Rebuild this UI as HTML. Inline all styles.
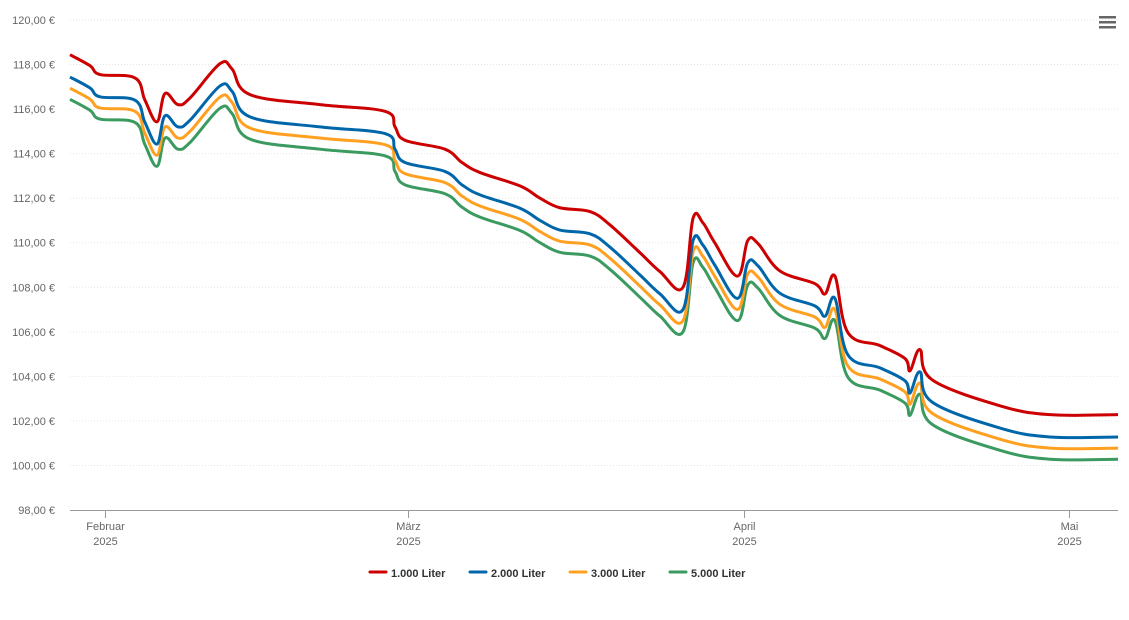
<!DOCTYPE html>
<html><head><meta charset="utf-8"><style>
body{margin:0;background:#fff;font-family:"Liberation Sans",sans-serif;}
svg text{font-family:"Liberation Sans",sans-serif;}
</style></head><body>
<svg id="chart" width="1129" height="615" xmlns="http://www.w3.org/2000/svg">
<g id="grid"></g>
<g id="yaxis"></g>
<g id="xaxis"></g>
<g id="series"></g>
<g>
<rect x="1099" y="16" width="17" height="2.5" fill="#666"/><rect x="1099" y="21" width="17" height="2.5" fill="#666"/><rect x="1099" y="26" width="17" height="2.5" fill="#666"/>
</g>
<g id="legend"></g>
</svg>
<script>
const days=[-3.23,-1.39,-0.46,2.77,3.69,4.8,5.54,6.74,7.85,10.62,11.73,13.39,19.85,25.85,26.78,27.7,31.39,32.96,34.63,38.32,40.17,42.0,44.78,46.63,49.4,51.25,53.37,54.3,55.2,56.3,58.4,59.35,60.3,62.3,65.56,66.48,67.4,68.6,71.56,73.87,74.33,75.25,76.36,82.64,87.26,93.54];
const s1000=[118.44,117.95,117.55,117.4,116.4,115.43,116.7,116.2,116.5,118.04,117.8,116.65,116.2,115.9,115.2,114.6,114.2,113.6,113.15,112.55,112.0,111.57,111.4,110.8,109.55,108.7,108.0,111.1,110.9,110.0,108.5,110.1,109.96,108.74,108.16,107.7,108.5,105.96,105.38,104.8,104.25,105.2,103.85,102.68,102.28,102.28];
const s2000=[117.44,116.95,116.55,116.4,115.4,114.43,115.7,115.2,115.5,117.04,116.8,115.65,115.2,114.9,114.2,113.6,113.2,112.6,112.15,111.55,111.0,110.57,110.4,109.8,108.55,107.7,107.0,110.1,109.9,109.0,107.5,109.1,108.96,107.74,107.16,106.7,107.5,104.96,104.38,103.8,103.25,104.2,102.85,101.68,101.28,101.28];
const s3000=[116.94,116.45,116.05,115.9,114.9,113.93,115.2,114.7,115.0,116.54,116.3,115.15,114.7,114.4,113.7,113.1,112.7,112.1,111.65,111.05,110.5,110.07,109.9,109.3,108.05,107.2,106.5,109.6,109.4,108.5,107.0,108.6,108.46,107.24,106.66,106.2,107.0,104.46,103.88,103.3,102.75,103.7,102.35,101.18,100.78,100.78];
const s5000=[116.44,115.95,115.55,115.4,114.4,113.43,114.7,114.2,114.5,116.04,115.8,114.65,114.2,113.9,113.2,112.6,112.2,111.6,111.15,110.55,110.0,109.57,109.4,108.8,107.55,106.7,106.0,109.1,108.9,108.0,106.5,108.1,107.96,106.74,106.16,105.7,106.5,103.96,103.38,102.8,102.25,103.2,101.85,100.68,100.28,100.28];
const yTicks=[98,100,102,104,106,108,110,112,114,116,118,120];
const monthDays=[0,28,59,89];
const monthNames=["Februar","März","April","Mai"];
const seriesNames=["1.000 Liter","2.000 Liter","3.000 Liter","5.000 Liter"];
const colors=["#cc0000","#0066aa","#ffa020","#3a9a60"];
const NS="http://www.w3.org/2000/svg";
const X0=70,X1=1118;
const xs=d=>105+d*10.83;
const ys=v=>510-(v-98)*(490/22);
function mk(tag,attrs,parent,text){const e=document.createElementNS(NS,tag);for(const k in attrs)e.setAttribute(k,attrs[k]);if(text!==undefined)e.textContent=text;parent.appendChild(e);return e;}
const grid=document.getElementById('grid'),ya=document.getElementById('yaxis'),xa=document.getElementById('xaxis'),sg=document.getElementById('series'),lg=document.getElementById('legend');
yTicks.forEach(t=>{
 if(t>98){const l=mk('line',{x1:X0,x2:X1,y1:ys(t),y2:ys(t),stroke:'#e6e6e6','stroke-width':1,'stroke-dasharray':'1,2'},grid);
 
 }
 const tx=mk('text',{x:55,y:ys(t)+4,'text-anchor':'end','font-size':11,fill:'#666'},ya,t.toFixed(2).replace('.',',')+' €');
 
 
});
const ax=mk('line',{x1:X0,x2:X1,y1:510.5,y2:510.5,stroke:'#999','stroke-width':1},xa);


monthDays.forEach((d,i)=>{
 const x=Math.round(xs(d))+0.5;
 const tk=mk('line',{x1:x,x2:x,y1:510,y2:518,stroke:'#999'},xa);
 
 
 const t1=mk('text',{x:x,y:530,'text-anchor':'middle','font-size':11,fill:'#666'},xa,monthNames[i]);
 
 
 const t2=mk('text',{x:x,y:545,'text-anchor':'middle','font-size':11,fill:'#666'},xa,'2025');
 
 
});
function pathFor(vals){
 const p=days.map((d,i)=>[xs(d),ys(vals[i])]);
 let s='M'+p[0][0]+','+p[0][1];
 for(let i=0;i<p.length-1;i++){
  const p0=p[i-1]||p[i],p1=p[i],p2=p[i+1],p3=p[i+2]||p2;
  const t=0.18;
  const c1=[p1[0]+(p2[0]-p0[0])*t,p1[1]+(p2[1]-p0[1])*t];
  const c2=[p2[0]-(p3[0]-p1[0])*t,p2[1]-(p3[1]-p1[1])*t];
  s+=' C'+c1.join(',')+' '+c2.join(',')+' '+p2.join(',');
 }
 return s;
}
[s5000,s3000,s2000,s1000].forEach((vals,j)=>{
 const i=3-j;
 const pa=mk('path',{d:pathFor(vals),fill:'none',stroke:colors[i],'stroke-width':3,'stroke-linejoin':'round'},sg);
 
 
});
const lx=[370,470,570,670];
seriesNames.forEach((n,i)=>{
 const g=mk('g',{},lg);
 
 
 mk('line',{x1:lx[i],x2:lx[i]+16,y1:572,y2:572,stroke:colors[i],'stroke-width':3,'stroke-linecap':'round'},g);
 mk('text',{x:lx[i]+21,y:577,'font-size':11,'font-weight':'bold',fill:'#333'},g,n);
});
</script>
</body></html>
